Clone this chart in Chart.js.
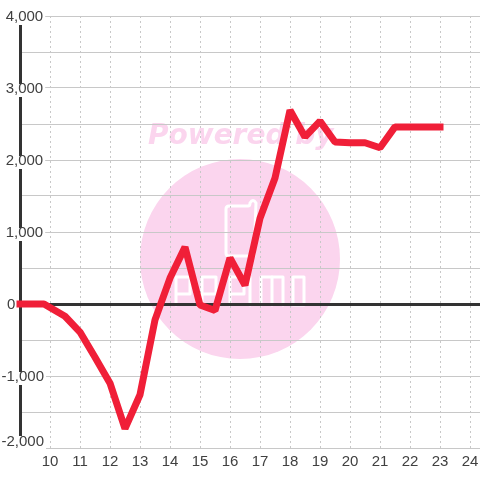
<!DOCTYPE html>
<html><head><meta charset="utf-8">
<style>html,body{margin:0;padding:0;background:#fff}canvas{display:block}</style>
<script src="https://cdn.jsdelivr.net/npm/chart.js@4"></script></head>
<body><canvas id="c" width="480" height="480"></canvas>
<script>
const hours = [9,9.5,9.8,10.5,11,11.5,12,12.5,13,13.5,14,14.5,15,15.5,16,16.5,17,17.5,18,18.5,19,19.5,20,20.5,21,21.5,22,22.5,23];
const values = [0,0,0,-170,-390,-740,-1100,-1730,-1260,-220,360,790,-15,-90,640,260,1190,1750,2690,2320,2540,2250,2240,2240,2170,2460,2460,2460,2460];
const yTicksMin = -2000, yTicksMax = 4000, yStep = 500;
const xMin = 9, xMax = 24 + 1/3;
const ink = '#404040', gridColor = '#c8c8c8', axisColor = '#333333', lineColor = '#f01f38';
const labelFont = {family:'"Liberation Sans"',size:15};
const fmt = v => v.toLocaleString('en-US');
const watermark = {
  id: 'watermark',
  beforeDraw(chart) {
    const c = chart.ctx;
    c.save();
    c.fillStyle = '#fbd5ee';
    c.beginPath(); c.arc(240, 259, 100, 0, Math.PI * 2); c.fill();
    c.font = 'italic bold 28px "DejaVu Sans"';
    c.textAlign = 'left'; c.textBaseline = 'alphabetic';
    c.fillText('Powered by', 148, 144);
    c.strokeStyle = '#fff'; c.lineWidth = 3; c.lineJoin = 'round'; c.lineCap = 'round';
    c.beginPath();
    c.moveTo(226,209); c.quadraticCurveTo(226,206,229,206); c.lineTo(248,206); c.quadraticCurveTo(250,206,250,203);
    c.quadraticCurveTo(253,198,256,203); c.lineTo(254,256); c.lineTo(229,256); c.quadraticCurveTo(226,256,226,253); c.closePath();
    c.stroke();
    const letter = pts => { c.beginPath(); pts.forEach((p,i)=> i? c.lineTo(p[0],p[1]) : c.moveTo(p[0],p[1])); c.stroke(); };
    letter([[176,305],[176,277],[190,277],[190,294],[176,294]]);
    letter([[202,305],[202,277],[216,277],[216,294],[202,294]]);
    letter([[230,305],[230,277],[244,277],[244,294],[230,294]]);
    letter([[250,277],[250,305]]);
    letter([[261,305],[261,277],[283,277],[283,305]]);
    letter([[272,277],[272,305]]);
    letter([[293,277],[304,277],[304,305],[293,305],[293,277]]);
    c.restore();
  }
};
const shift = 6 * (yTicksMax - yTicksMin) / 432;
new Chart(document.getElementById('c'), {
  type: 'line',
  data: { datasets: [{
    data: hours.map((h,i)=>({x:h,y:values[i]})),
    borderColor: lineColor, borderWidth: 7, pointRadius: 0, tension: 0,
    borderCapStyle: 'square', borderJoinStyle: 'bevel', clip: false, fill: false
  }]},
  plugins: [watermark],
  options: {
    responsive: false, animation: false,
    layout: { padding: { left: 0, top: 16, right: 0, bottom: 0 } },
    plugins: { legend: {display:false}, tooltip: {enabled:false} },
    scales: {
      x: { type:'linear', min:xMin, max:xMax,
        afterFit: s => { s.height = 32; s.paddingLeft = 0; s.paddingRight = 0; },
        border: {display:false, dash:[2,3]},
        grid: { color: gridColor, lineWidth:1, drawTicks:false },
        ticks: { stepSize:1, includeBounds:false, color:ink, padding:5, maxRotation:0, autoSkip:false,
          font:labelFont,
          callback: v => v>=10 ? String(v) : '' }
      },
      y: { min:yTicksMin, max:yTicksMax,
        afterFit: s => { s.width = 20; s.paddingTop = 0; s.paddingBottom = 0; },
        border: {display:true, color:axisColor, width:3},
        grid: { drawTicks:false, lineWidth: ctx => ctx.tick && ctx.tick.value===0 ? 3 : 1,
                color: ctx => ctx.tick && ctx.tick.value===0 ? axisColor : gridColor },
        ticks: { stepSize:yStep, color:ink, mirror:true, padding:-18.5, labelOffset:1, autoSkip:false,
          font:labelFont,
          showLabelBackdrop: ctx => !!ctx.tick && ctx.tick.value%1000===0 && ctx.tick.value!==0 && ctx.tick.value!==yTicksMin,
          backdropColor:'#ffffff',
          backdropPadding: {top:-4,bottom:-1,left:2,right:2},
          callback: v => v%1000!==0 || v===yTicksMin ? '' : v===0 ? '\u00a0\u200a0' : v<0 ? fmt(v) : '\u00a0'+fmt(v) }
      },
      yLow: { position:'left', weight:-1, min:yTicksMin-shift, max:yTicksMax-shift,
        afterFit: s => { s.width = 0; s.paddingTop = 0; s.paddingBottom = 0; },
        afterBuildTicks: s => { s.ticks = [{value:yTicksMin}]; },
        border: {display:false},
        grid: {display:false, drawTicks:false},
        ticks: { color:ink, mirror:true, padding:-18.5, autoSkip:false, font:labelFont,
          showLabelBackdrop:true, backdropColor:'#ffffff', backdropPadding:{top:-3,bottom:-2,left:2,right:2},
          callback: v => fmt(v) }
      }
    }
  }
});
</script></body></html>
